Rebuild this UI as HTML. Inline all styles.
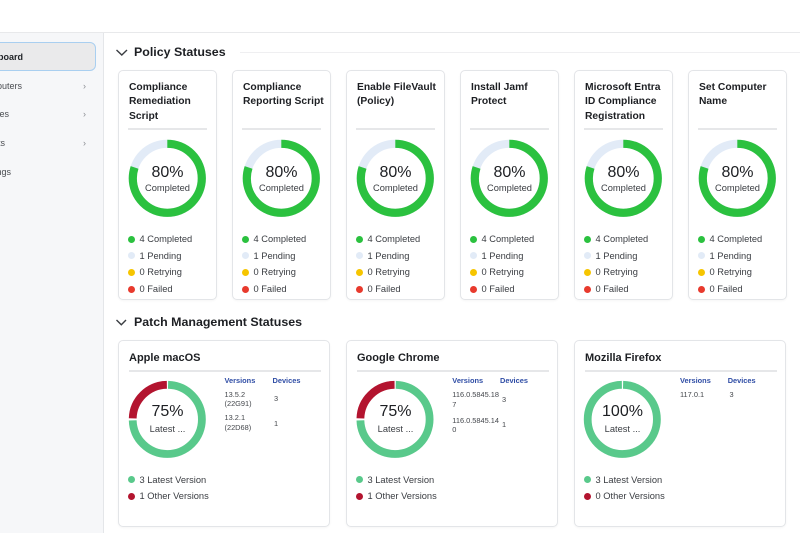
<!DOCTYPE html>
<html><head><meta charset="utf-8">
<style>
*{margin:0;padding:0;box-sizing:border-box}
html,body{width:800px;height:533px;overflow:hidden;background:#fff;font-family:"Liberation Sans",Arial,sans-serif;color:#1d1f23}
.abs{position:absolute;white-space:nowrap}
#hdr{position:absolute;left:0;top:0;width:800px;height:33px;background:#fff;border-bottom:1px solid #e8e9eb}
#side{position:absolute;left:0;top:33px;width:104px;height:500px;background:#f6f7f9;border-right:1px solid #e4e6e9}
.sel{position:absolute;left:-10px;top:42px;width:106px;height:29px;background:#eaeaeb;border:1.5px solid #a9cff0;border-radius:6px}
.si{position:absolute;font-size:9px;color:#4a4d52;line-height:12px;white-space:nowrap}
.chev{position:absolute;left:83px;font-size:9px;color:#8a8d92;line-height:12px}
.card{position:absolute;background:#fff;border:1px solid #e3e5e8;border-radius:5px;box-shadow:0 1px 2px rgba(0,0,0,.04)}
.pt{position:absolute;left:10px;top:10px;font-size:10.3px;font-weight:bold;line-height:14.4px;white-space:nowrap;color:#1d1f23}
.div{position:absolute;left:10px;height:2px;background:#e6e7e9}
.lg{position:absolute;left:10px;font-size:9.3px;line-height:12px;color:#3a3d42;white-space:nowrap}
.dot{display:inline-block;width:7px;height:7px;border-radius:50%;margin-right:4.5px;vertical-align:-0.5px}
.th{position:absolute;font-size:7.4px;font-weight:bold;color:#2f4da5;line-height:9px;white-space:nowrap}
.td{position:absolute;font-size:7.4px;color:#44474c;line-height:9.6px;white-space:nowrap}
.h2{position:absolute;left:134px;font-size:12.4px;font-weight:bold;line-height:16px;color:#1d1f23;white-space:nowrap}
</style></head><body>
<div id="hdr"></div>
<div id="side">
</div>
<div class="sel"></div>
<div class="si" style="right:777px;top:50.5px;font-weight:bold;color:#1f2226">Dashboard</div>
<div class="si" style="right:778px;top:79.5px">Computers</div><div class="chev" style="top:79.5px">&#8250;</div>
<div class="si" style="right:791px;top:108px">Devices</div><div class="chev" style="top:108px">&#8250;</div>
<div class="si" style="right:795px;top:137px">Reports</div><div class="chev" style="top:137px">&#8250;</div>
<div class="si" style="right:789px;top:166px">Settings</div>

<!-- Section 1 heading -->
<svg class="abs" style="left:115px;top:48px" width="14" height="9"><polyline points="1.5,2 6.8,7 12,2" fill="none" stroke="#3a3d42" stroke-width="1.4"/></svg>
<div class="h2" style="top:44.3px">Policy Statuses</div>
<div class="abs" style="left:240px;top:52px;width:560px;height:1px;background:#efeff1"></div>

<!-- Policy cards -->
<div class="card" style="left:118px;top:70px;width:99px;height:230px">
<div class="pt">Compliance<br>Remediation<br>Script</div>
</div>
<div class="card" style="left:232px;top:70px;width:99px;height:230px">
<div class="pt">Compliance<br>Reporting Script</div>
</div>
<div class="card" style="left:346px;top:70px;width:99px;height:230px">
<div class="pt">Enable FileVault<br>(Policy)</div>
</div>
<div class="card" style="left:460px;top:70px;width:99px;height:230px">
<div class="pt">Install Jamf<br>Protect</div>
</div>
<div class="card" style="left:574px;top:70px;width:99px;height:230px">
<div class="pt">Microsoft Entra<br>ID Compliance<br>Registration</div>
</div>
<div class="card" style="left:688px;top:70px;width:99px;height:230px">
<div class="pt">Set Computer<br>Name</div>
</div>

<div id="pol"></div>
<script>
(function(){
var h='';
var C=2*Math.PI*34.5;
for(var i=0;i<6;i++){
 var L=118+i*114;
 h+='<div class="abs" style="left:'+(L+10)+'px;top:128px;width:79px;height:2px;background:#e6e7e9"></div>';
 h+='<svg class="abs" style="left:'+(L+5)+'px;top:134px" width="90" height="90"><g transform="rotate(-90 44.3 44.3)"><circle cx="44.3" cy="44.3" r="34.5" fill="none" stroke="#e2ebf7" stroke-width="8.2"/><circle cx="44.3" cy="44.3" r="34.5" fill="none" stroke="#2bc13f" stroke-width="8.2" stroke-dasharray="'+(C*0.8).toFixed(2)+' 400"/></g></svg>';
 h+='<div class="abs" style="left:'+L+'px;width:99px;text-align:center;top:163.7px;font-size:16px;line-height:18px;color:#1d1f23">80%</div>';
 h+='<div class="abs" style="left:'+L+'px;width:99px;text-align:center;top:182px;font-size:9.3px;line-height:12px;color:#3a3d42">Completed</div>';
 var rows=[['#2bc13f','4 Completed',239],['#e2ebf7','1 Pending',255.7],['#f6c500','0 Retrying',272.3],['#e83a2d','0 Failed',289]];
 for(var r=0;r<4;r++){
  h+='<div class="abs" style="left:'+(L+10)+'px;top:'+(rows[r][2]-6)+'px;font-size:9.3px;line-height:12px;color:#3a3d42"><span class="dot" style="background:'+rows[r][0]+'"></span>'+rows[r][1]+'</div>';
 }
}
document.getElementById('pol').innerHTML=h;
})();
</script>

<!-- Section 2 heading -->
<svg class="abs" style="left:115px;top:318px" width="14" height="9"><polyline points="1.5,2 6.3,6.8 11,2" fill="none" stroke="#3a3d42" stroke-width="1.4"/></svg>
<div class="h2" style="top:314.3px">Patch Management Statuses</div>

<!-- Patch cards -->
<div class="card" style="left:118px;top:339.5px;width:212px;height:187.5px">
<div class="abs" style="left:10px;top:10px;font-size:11px;font-weight:bold;line-height:14px">Apple macOS</div>
<div class="div" style="top:29px;width:192px"></div>
</div>
<div class="card" style="left:346px;top:339.5px;width:212px;height:187.5px">
<div class="abs" style="left:10px;top:10px;font-size:11px;font-weight:bold;line-height:14px">Google Chrome</div>
<div class="div" style="top:29px;width:192px"></div>
</div>
<div class="card" style="left:574px;top:339.5px;width:212px;height:187.5px">
<div class="abs" style="left:10px;top:10px;font-size:11px;font-weight:bold;line-height:14px">Mozilla Firefox</div>
<div class="div" style="top:29px;width:192px"></div>
</div>

<!-- Apple donut -->
<svg class="abs" style="left:123px;top:375px" width="90" height="90"><g transform="rotate(-90 44.3 44.4)">
<circle cx="44.3" cy="44.4" r="34.6" fill="none" stroke="#59c98b" stroke-width="7.8" stroke-dasharray="161 400" stroke-dashoffset="-0.8"/>
<circle cx="44.3" cy="44.4" r="34.6" fill="none" stroke="#b3142f" stroke-width="7.8" stroke-dasharray="52.8 400" stroke-dashoffset="-163.8"/></g></svg>
<div class="abs" style="left:118px;width:99px;text-align:center;top:403px;font-size:16px;line-height:18px">75%</div>
<div class="abs" style="left:118px;width:99px;text-align:center;top:423px;font-size:9.3px;line-height:12px;color:#3a3d42">Latest ...</div>
<div class="th" style="left:224.5px;top:375.5px">Versions</div>
<div class="th" style="left:272.5px;top:375.5px">Devices</div>
<div class="td" style="left:224.5px;top:389.5px">13.5.2<br>(22G91)</div>
<div class="td" style="left:274px;top:393.5px">3</div>
<div class="td" style="left:224.5px;top:413px">13.2.1<br>(22D68)</div>
<div class="td" style="left:274px;top:419px">1</div>
<div class="lg" style="left:128px;top:473.5px"><span class="dot" style="background:#59c98b"></span>3 Latest Version</div>
<div class="lg" style="left:128px;top:490px"><span class="dot" style="background:#b3142f"></span>1 Other Versions</div>

<!-- Chrome donut -->
<svg class="abs" style="left:351px;top:375px" width="90" height="90"><g transform="rotate(-90 44 44.4)">
<circle cx="44" cy="44.4" r="34.6" fill="none" stroke="#59c98b" stroke-width="7.8" stroke-dasharray="161 400" stroke-dashoffset="-0.8"/>
<circle cx="44" cy="44.4" r="34.6" fill="none" stroke="#b3142f" stroke-width="7.8" stroke-dasharray="52.8 400" stroke-dashoffset="-163.8"/></g></svg>
<div class="abs" style="left:346px;width:99px;text-align:center;top:403px;font-size:16px;line-height:18px">75%</div>
<div class="abs" style="left:346px;width:99px;text-align:center;top:423px;font-size:9.3px;line-height:12px;color:#3a3d42">Latest ...</div>
<div class="th" style="left:452.3px;top:375.5px">Versions</div>
<div class="th" style="left:500px;top:375.5px">Devices</div>
<div class="td" style="left:452.3px;top:390px">116.0.5845.18<br>7</div>
<div class="td" style="left:502px;top:394.5px">3</div>
<div class="td" style="left:452.3px;top:415.5px">116.0.5845.14<br>0</div>
<div class="td" style="left:502px;top:419.5px">1</div>
<div class="lg" style="left:356px;top:473.5px"><span class="dot" style="background:#59c98b"></span>3 Latest Version</div>
<div class="lg" style="left:356px;top:490px"><span class="dot" style="background:#b3142f"></span>1 Other Versions</div>

<!-- Firefox donut -->
<svg class="abs" style="left:578px;top:375px" width="90" height="90"><g transform="rotate(-90 44.3 44.4)">
<circle cx="44.3" cy="44.4" r="34.6" fill="none" stroke="#59c98b" stroke-width="7.8" stroke-dasharray="215.8 400" stroke-dashoffset="-0.8"/></g></svg>
<div class="abs" style="left:574px;width:97px;text-align:center;top:403px;font-size:16px;line-height:18px">100%</div>
<div class="abs" style="left:574px;width:97px;text-align:center;top:423px;font-size:9.3px;line-height:12px;color:#3a3d42">Latest ...</div>
<div class="th" style="left:680px;top:375.5px">Versions</div>
<div class="th" style="left:727.7px;top:375.5px">Devices</div>
<div class="td" style="left:680px;top:389.5px">117.0.1</div>
<div class="td" style="left:729.5px;top:389.5px">3</div>
<div class="lg" style="left:584px;top:473.5px"><span class="dot" style="background:#59c98b"></span>3 Latest Version</div>
<div class="lg" style="left:584px;top:490px"><span class="dot" style="background:#b3142f"></span>0 Other Versions</div>

</body></html>
